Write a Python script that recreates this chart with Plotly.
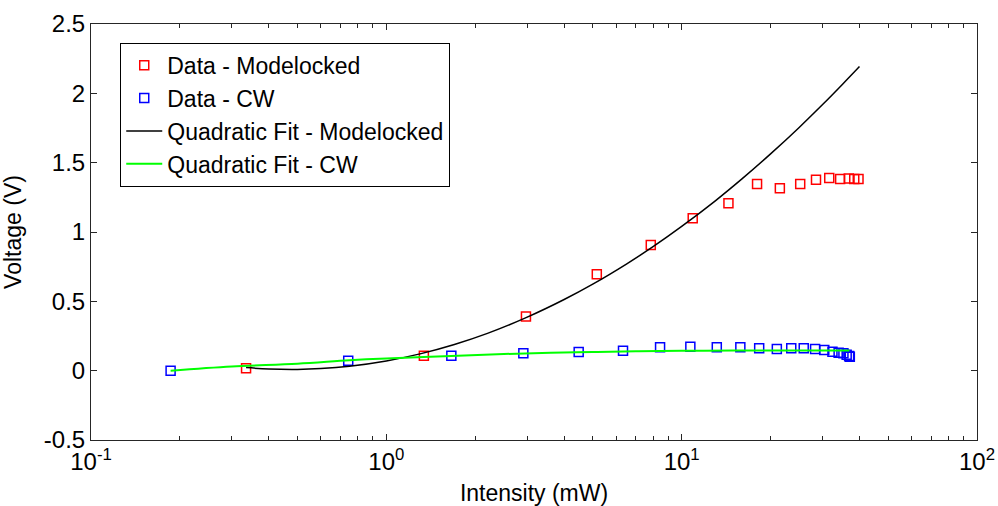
import plotly.graph_objects as go

# Data - Modelocked
ml_x = [0.335, 1.34, 2.97, 5.16, 7.86, 10.9, 14.4, 18.0, 21.5, 25.2, 28.5, 31.6, 34.4, 36.8, 38.4, 39.7]
ml_y = [0.017, 0.108, 0.39, 0.695, 0.906, 1.099, 1.207, 1.346, 1.315, 1.346, 1.377, 1.389, 1.382, 1.385, 1.383, 1.383]

# Data - CW
cw_x = [0.186, 0.743, 1.66, 2.91, 4.48, 6.33, 8.45, 10.7, 13.15, 15.8, 18.3, 21.0, 23.5, 25.9, 28.3, 30.4, 32.4, 34.0, 35.3, 36.2, 36.9, 37.1]
cw_y = [0.0, 0.072, 0.108, 0.125, 0.135, 0.144, 0.169, 0.173, 0.169, 0.169, 0.161, 0.156, 0.161, 0.161, 0.156, 0.149, 0.137, 0.13, 0.125, 0.115, 0.105, 0.1]

# Quadratic Fit - Modelocked
fit_ml_x = [0.335, 0.4, 0.5, 0.6, 0.75, 1.0, 1.3, 1.7, 2.2, 3.0, 4.0, 5.0, 6.5, 8.0, 10, 13, 16, 20, 25, 30, 35, 40]
fit_ml_y = [0.022, 0.012, 0.009, 0.015, 0.032, 0.07, 0.121, 0.189, 0.269, 0.386, 0.513, 0.624, 0.769, 0.894, 1.04, 1.225, 1.383, 1.563, 1.754, 1.919, 2.064, 2.193]

# Quadratic Fit - CW
fit_cw_x = [0.186, 0.3, 0.5, 0.75, 1.0, 1.66, 2.5, 3.6, 5, 7, 10, 15, 20, 30, 37]
fit_cw_y = [0.0, 0.03, 0.05, 0.075, 0.088, 0.106, 0.12, 0.13, 0.135, 0.14, 0.143, 0.145, 0.146, 0.146, 0.145]

y_ticks = [-0.5, 0, 0.5, 1, 1.5, 2, 2.5]
y_labels = ["-0.5", "0", "0.5", "1", "1.5", "2", "2.5"]
x_ticks = [0.1, 1, 10, 100]
x_labels = ["10<sup>-1</sup>", "10<sup>0</sup>", "10<sup>1</sup>", "10<sup>2</sup>"]

FONT = "Arial, Liberation Sans, Helvetica, sans-serif"

fig = go.Figure()
fig.add_trace(go.Scatter(x=ml_x, y=ml_y, mode="markers", name="Data - Modelocked",
                         marker=dict(symbol="square-open", size=9, color="#ff0000", line=dict(width=1.5, color="#ff0000"))))
fig.add_trace(go.Scatter(x=cw_x, y=cw_y, mode="markers", name="Data - CW",
                         marker=dict(symbol="square-open", size=9, color="#0000ff", line=dict(width=1.5, color="#0000ff"))))
fig.add_trace(go.Scatter(x=fit_ml_x, y=fit_ml_y, mode="lines", name="Quadratic Fit - Modelocked",
                         line=dict(color="#000000", width=1.5, shape="spline")))
fig.add_trace(go.Scatter(x=fit_cw_x, y=fit_cw_y, mode="lines", name="Quadratic Fit - CW",
                         line=dict(color="#00ff00", width=2, shape="spline")))

axis_common = dict(showline=True, linecolor="#262626", linewidth=1, mirror="allticks", ticks="inside",
                   tickcolor="#262626", ticklen=6, showgrid=False, zeroline=False, automargin=False,
                   tickfont=dict(family=FONT, size=24, color="#000000"))

fig.update_xaxes(type="log", range=[-1, 2], tickvals=x_ticks, ticktext=x_labels,
                 minor=dict(ticks="inside", ticklen=4, tickcolor="#262626", dtick="D1"),
                 title=dict(text="Intensity (mW)", font=dict(family=FONT, size=23, color="#000000")),
                 **axis_common)
fig.update_yaxes(range=[-0.5, 2.5], tickvals=y_ticks, ticktext=y_labels,
                 title=dict(text="Voltage (V)", font=dict(family=FONT, size=23, color="#000000")),
                 **axis_common)

fig.update_layout(
    width=998, height=506,
    margin=dict(l=91, r=21, t=24, b=66),
    plot_bgcolor="white", paper_bgcolor="white",
    font=dict(family=FONT, color="#000000"),
    showlegend=True,
    legend=dict(x=0.033, y=0.955, xanchor="left", yanchor="top",
                bordercolor="#000000", borderwidth=1, bgcolor="white",
                font=dict(family=FONT, size=23, color="#000000"),
                itemwidth=36, entrywidth=320, entrywidthmode="pixels"),
)

fig.write_html("out.html")
